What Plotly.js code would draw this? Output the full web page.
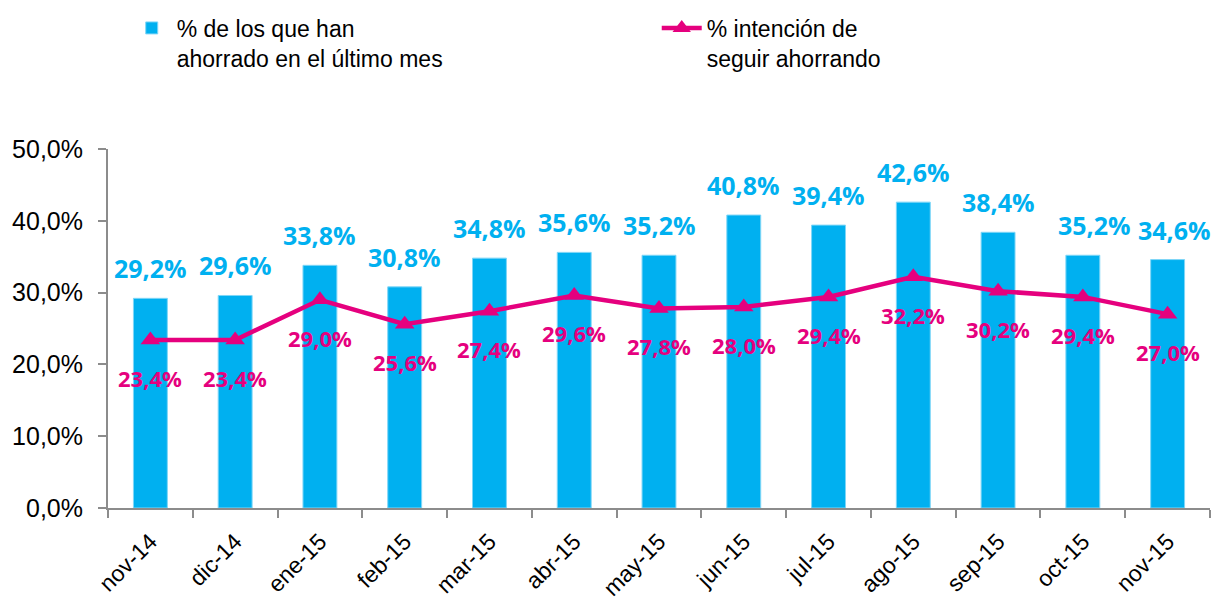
<!DOCTYPE html>
<html>
<head>
<meta charset="utf-8">
<script src="https://cdn.plot.ly/plotly-3.0.1.min.js"></script>
<style>html,body{margin:0;padding:0;background:#fff;}#chart{width:1217px;height:601px;}</style>
</head>
<body>
<div id="chart"></div>
<script>
const categories = ["nov-14","dic-14","ene-15","feb-15","mar-15","abr-15","may-15","jun-15","jul-15","ago-15","sep-15","oct-15","nov-15"];
const ahorrado = [29.2,29.6,33.8,30.8,34.8,35.6,35.2,40.8,39.4,42.6,38.4,35.2,34.6];
const intencion = [23.4,23.4,29.0,25.6,27.4,29.6,27.8,28.0,29.4,32.2,30.2,29.4,27.0];
const barName = "% de los que han<br>ahorrado en el último mes";
const lineName = "% intención de<br>seguir ahorrando";
const yTicks = [0,10,20,30,40,50];

const BLUE = "#00B0F0";
const PINK = "#E5007E";
const AXIS = "#8C8C8C";

function fmt(v){ return v.toFixed(1).replace(".", ",") + "%"; }

const traces = [
  {type:"bar", x:categories, y:ahorrado, name:barName,
   marker:{color:BLUE, line:{color:"#7FD6F7", width:1}}, hoverinfo:"skip"},
  {type:"scatter", mode:"lines+markers", x:categories, y:intencion, name:lineName,
   line:{color:PINK, width:4.5},
   marker:{symbol:"triangle-up", size:17, color:PINK}, hoverinfo:"skip"}
];

const annotations = [];
categories.forEach((c,i)=>{
  annotations.push({x:c, y:ahorrado[i], xref:"x", yref:"y", text:fmt(ahorrado[i]),
    showarrow:false, yanchor:"middle", yshift:30, xshift:(i === categories.length-2 ? 12 : (i === categories.length-1 ? 7 : 0)),
    font:{family:"Open Sans, Liberation Sans, sans-serif", size:25, color:BLUE, weight:"bold"}});
  annotations.push({x:c, y:intencion[i], xref:"x", yref:"y", text:fmt(intencion[i]),
    showarrow:false, yanchor:"middle", yshift:-38,
    font:{family:"Open Sans, Liberation Sans, sans-serif", size:22, color:PINK, weight:"bold"}});
});

const layout = {
  width:1217, height:601,
  margin:{l:108, r:7, t:149, b:93, pad:0, autoexpand:false},
  paper_bgcolor:"#fff", plot_bgcolor:"#fff",
  separators:",.",
  font:{family:"Liberation Sans, Arial, sans-serif", size:23, color:"#000"},
  bargap:0.6,
  showlegend:true,
  legend:{orientation:"h", x:0.017, xanchor:"left", y:1.397, yanchor:"top",
    font:{size:23, color:"#000"}, valign:"top", entrywidth:475, itemwidth:40,
    bgcolor:"rgba(0,0,0,0)"},
  xaxis:{type:"category", range:[-0.5,12.5], showline:true, linecolor:AXIS, linewidth:2,
    ticks:"outside", tickson:"boundaries", ticklen:8, tickcolor:AXIS, tickwidth:2,
    tickangle:-45, tickfont:{size:23}, ticklabelstandoff:9, showgrid:false, zeroline:false},
  yaxis:{range:[0,50], tickvals:yTicks, ticktext:yTicks.map(fmt),
    showline:true, linecolor:AXIS, linewidth:2, ticks:"outside", ticklen:8,
    tickcolor:AXIS, tickwidth:2, showgrid:false, zeroline:false, tickfont:{size:25},
    ticklabelstandoff:10},
  annotations:annotations
};

Plotly.newPlot("chart", traces, layout, {displayModeBar:false, staticPlot:true});
</script>
</body>
</html>
